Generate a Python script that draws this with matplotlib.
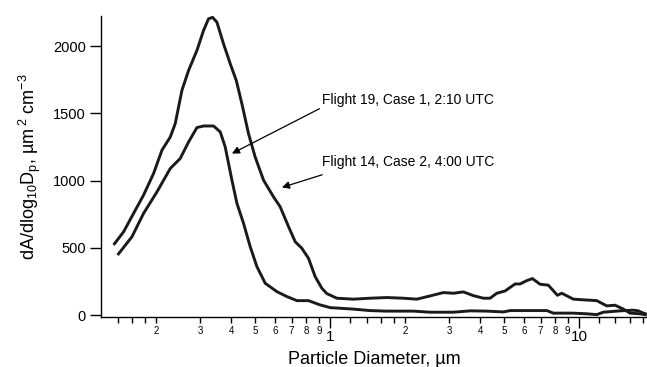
import matplotlib
matplotlib.use("Agg")
import matplotlib.pyplot as plt
from matplotlib.ticker import FixedLocator, FixedFormatter

plt.rcParams['font.family'] = ['Liberation Sans', 'DejaVu Sans']
plt.rcParams['mathtext.fontset'] = 'custom'
plt.rcParams['mathtext.rm'] = 'Liberation Sans'

# Flight 14, Case 2, 4:00 UTC (upper curve)
d14 = [0.1348, 0.1479, 0.1622, 0.1779, 0.1952, 0.2109, 0.2278, 0.2385, 0.2537, 0.2698,
       0.2915, 0.3098, 0.3245, 0.3368, 0.3507, 0.3728, 0.3967, 0.4194, 0.4418, 0.4696,
       0.4995, 0.5398, 0.5919, 0.6296, 0.6804, 0.7237, 0.7697, 0.8182, 0.8706, 0.926,
       0.97, 1.064, 1.240, 1.447, 1.689, 1.970, 2.229, 2.521, 2.851, 3.128,
       3.430, 3.763, 4.128, 4.391, 4.672, 5.045, 5.534, 5.795, 6.166, 6.495,
       6.972, 7.527, 8.184, 8.522, 9.487, 10.41, 11.78, 12.92, 13.95, 15.07,
       16.03, 17.58, 18.71]
a14 = [522, 620, 757, 893, 1054, 1227, 1325, 1425, 1672, 1820,
       1969, 2117, 2204, 2215, 2179, 2018, 1870, 1746, 1573, 1351,
       1177, 1004, 880, 806, 658, 546, 497, 423, 286, 200,
       160, 126, 119, 126, 131, 126, 119, 143, 168, 163,
       173, 145, 126, 126, 163, 180, 232, 232, 257, 272,
       230, 223, 148, 163, 119, 114, 108, 69, 74, 45,
       15, 10, 2]

# Flight 19, Case 1, 2:10 UTC (lower curve)
d19 = [0.1399, 0.1598, 0.1779, 0.2014, 0.2278, 0.2497, 0.2698, 0.2915, 0.3098, 0.340,
       0.3616, 0.3787, 0.4029, 0.4221, 0.4486, 0.4772, 0.5077, 0.5483, 0.6108, 0.6704,
       0.7350, 0.8182, 0.9118, 1.0, 1.240, 1.447, 1.689, 2.160, 2.521, 3.128,
       3.650, 4.259, 4.966, 5.284, 6.166, 7.418, 7.884, 9.487, 10.74, 11.78,
       12.52, 14.61, 16.52, 17.31, 18.13, 18.71]
a19 = [447, 583, 757, 917, 1091, 1165, 1288, 1395, 1407, 1407,
       1363, 1251, 1004, 831, 683, 509, 361, 237, 175, 138,
       108, 108, 76, 56, 45, 34, 30, 30, 22, 22,
       32, 30, 24, 34, 34, 34, 15, 15, 10, 4,
       22, 32, 37, 32, 15, 7]

yticks = [0, 500, 1000, 1500, 2000]
major_x = [1, 10]
major_x_labels = ["1", "10"]
minor_x = [0.14, 0.16, 0.18, 0.2, 0.3, 0.4, 0.5, 0.6, 0.7, 0.8, 0.9,
           1.2, 1.4, 1.6, 1.8, 2, 3, 4, 5, 6, 7, 8, 9,
           12, 14, 16, 18]
minor_x_labels = ["", "", "", "2", "3", "4", "5", "6", "7", "8", "9",
                  "", "", "", "", "2", "3", "4", "5", "6", "7", "8", "9",
                  "", "", "", ""]

label14 = "Flight 14, Case 2, 4:00 UTC"
label19 = "Flight 19, Case 1, 2:10 UTC"

fig = plt.figure(figsize=(6.47, 3.67), dpi=100)
ax = fig.add_axes([101/647, 1-316.5/367, 1-101/647, 300.5/367])

ax.plot(d14, a14, color='#1a1a1a', lw=2.1, solid_joinstyle='round', solid_capstyle='butt')
ax.plot(d19, a19, color='#1a1a1a', lw=2.1, solid_joinstyle='round', solid_capstyle='butt')

ax.set_xscale('log')
ax.set_xlim(0.12, 18.75)
ax.set_ylim(-10, 2225)

ax.spines['top'].set_visible(False)
ax.spines['right'].set_visible(False)
for s in ('left', 'bottom'):
    ax.spines[s].set_linewidth(1.0)

ax.xaxis.set_major_locator(FixedLocator(major_x))
ax.xaxis.set_major_formatter(FixedFormatter(major_x_labels))
ax.xaxis.set_minor_locator(FixedLocator(minor_x))
ax.xaxis.set_minor_formatter(FixedFormatter(minor_x_labels))
ax.tick_params(axis='x', which='major', direction='out', length=8, width=1.0, labelsize=11, pad=2)
ax.tick_params(axis='x', which='minor', direction='out', length=4.5, width=1.0, labelsize=7, pad=2.5)

ax.set_yticks(yticks)
ax.set_yticklabels([str(v) for v in yticks])
ax.tick_params(axis='y', which='major', direction='out', length=8, width=1.0, labelsize=10.5, pad=3)
ax.tick_params(axis='y', which='minor', left=False)

ax.set_xlabel("Particle Diameter, µm", fontsize=13, labelpad=5)
ax.set_ylabel(r"dA/dlog$\mathregular{_{10}}$D$\mathregular{_p}$, µm$\mathregular{^{\,2}}$ cm$\mathregular{^{-3}}$",
              fontsize=13, labelpad=7)

ax.annotate(label19, xy=(0.403, 1202), xytext=(0.929, 1598), fontsize=10,
            va='center', ha='left',
            arrowprops=dict(arrowstyle='-|>', color='black', lw=0.9, mutation_scale=11,
                            shrinkA=0, shrinkB=0, relpos=(0, 0.0)))
ax.annotate(label14, xy=(0.640, 950), xytext=(0.929, 1138), fontsize=10,
            va='center', ha='left',
            arrowprops=dict(arrowstyle='-|>', color='black', lw=0.9, mutation_scale=11,
                            shrinkA=0, shrinkB=0, relpos=(0, -0.4)))

fig.savefig("out.png", dpi=100)
